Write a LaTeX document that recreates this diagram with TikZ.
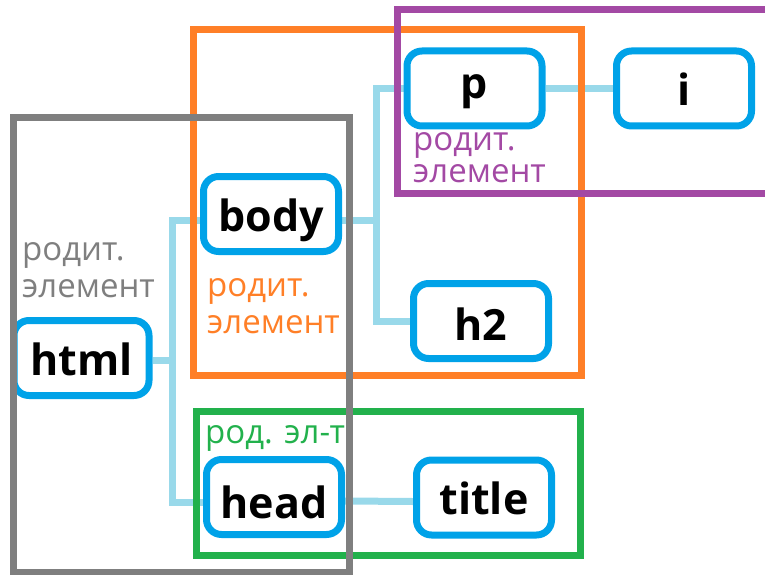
\documentclass[tikz,border=0pt]{standalone}
\usepackage{fontspec}
\setmainfont{Open Sans}
\usetikzlibrary{backgrounds}
\definecolor{nodeblue}{HTML}{00A2E8}
\definecolor{linkblue}{HTML}{99D9EA}
\definecolor{boxgray}{HTML}{7F7F7F}
\definecolor{boxorange}{HTML}{FF7F27}
\definecolor{boxpurple}{HTML}{A349A4}
\definecolor{boxgreen}{HTML}{22B14C}
\tikzset{
  tag/.style={draw=nodeblue, line width=7pt, rounded corners=15pt, fill=white,
    minimum width=135pt, minimum height=75pt, inner sep=0pt,
    text height=40pt, text depth=6pt,
    font=\fontsize{43}{46}\selectfont\bfseries, text=black},
  link/.style={draw=linkblue, line width=7pt},
  scopebox/.style={line width=7pt},
  lbl/.style={anchor=base west, inner sep=0pt, font=\fontsize{33}{37}\selectfont}
}
\begin{document}
\begin{tikzpicture}[x=1pt, y=-1pt]
  \useasboundingbox (0,0) rectangle (765,575);
  \clip (0,0) rectangle (765,575);

  % element nodes
  \node[tag] (html)  at (81.5,358)  {html};
  \node[tag] (body)  at (271,214)   {body};
  \node[tag, text height=30pt, text depth=10pt] (p) at (474.5,88.5) {p};
  \node[tag] (i)     at (684,88.5)  {i};
  \node[tag, text height=42pt, text depth=4pt] (h2) at (481,321) {h2};
  \node[tag, text height=44pt, text depth=2pt] (head) at (274,497) {head};
  \node[tag] (title) at (484,497.5) {title};

  % junctions of the tree
  \coordinate (jroot) at (172,360);
  \coordinate (jbody) at (376,220);

  % tree links, kept behind the nodes
  \begin{scope}[on background layer]
    \draw[link] (html.east |- jroot) -- (jroot);
    \draw[link] (jroot) |- ([yshift=-6pt]body.west);
    \draw[link] (jroot) |- ([yshift=-5pt]head.west);
    \draw[link] ([yshift=-6pt]body.east) -- (jbody);
    \draw[link] (jbody) |- (p.west);
    \draw[link] (jbody) |- (h2.west);
    \draw[link] (p.east) -- (i.west);
    \draw[link] ([yshift=-4pt]head.east) -- ([yshift=-4pt]title.west);
  \end{scope}

  % parent scopes
  \draw[scopebox, boxgreen]  (196.5,411.5) rectangle (580,555);
  \draw[scopebox, boxorange] (193.5,30) rectangle (581.5,375);
  \draw[scopebox, boxpurple] (397.5,10) rectangle (790,193);
  \draw[scopebox, boxgray]   (13.5,118) rectangle (349.5,572);

  % scope labels
  \node[lbl, text=boxgray]   (lg1) at (22,260)  {родит.};
  \node[lbl, text=boxgray]   (lg2) at (22,297)  {элемент};
  \node[lbl, text=boxorange] (lo1) at (207,296) {родит.};
  \node[lbl, text=boxorange] (lo2) at (207,333) {элемент};
  \node[lbl, text=boxpurple] (lp1) at (413,150) {родит.};
  \node[lbl, text=boxpurple] (lp2) at (413,182) {элемент};
  \node[lbl, text=boxgreen]  (lgr) at (205,443) {род. эл-т};
\end{tikzpicture}
\end{document}
